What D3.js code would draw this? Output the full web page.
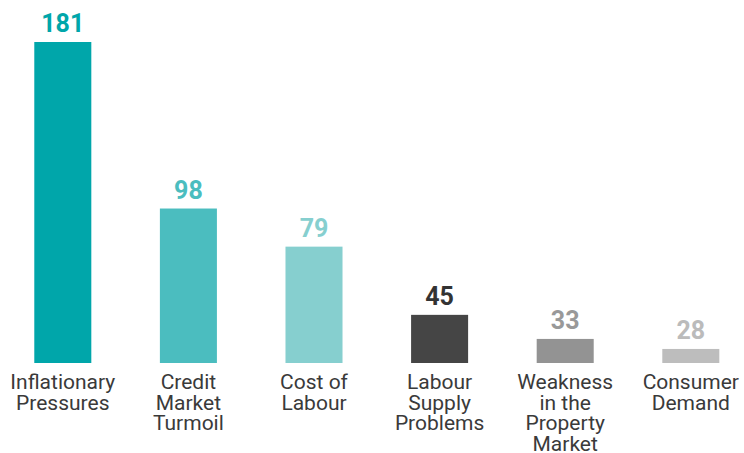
<!DOCTYPE html>
<html><head><meta charset="utf-8">
<script src="https://cdn.jsdelivr.net/npm/d3@7"></script>
<style>body{margin:0;background:#fff}svg{display:block}</style>
</head><body>
<svg id="c" width="744" height="453"></svg>
<script>
const categories = [
  ["Inflationary","Pressures"],
  ["Credit","Market","Turmoil"],
  ["Cost of","Labour"],
  ["Labour","Supply","Problems"],
  ["Weakness","in the","Property","Market"],
  ["Consumer","Demand"]
];
const values = [181, 98, 79, 45, 33, 28];
const barColors = ["#00a6aa","#4bbdbf","#86cfcf","#454545","#939393","#bdbdbd"];
const labelColors = ["#00a6aa","#4bbdbf","#86cfcf","#333333","#999999","#bbbbbb"];

const svg = d3.select("#c");
const idx = d3.range(values.length);
const x = d3.scaleBand().domain(idx).range([0, 753.6]).paddingInner(0.546).paddingOuter(0.273);
const y = d3.scaleLinear().domain([21, 181]).range([363, 42]);

svg.selectAll("rect.bar").data(idx).join("rect")
  .attr("x", i => x(i)).attr("width", x.bandwidth())
  .attr("y", i => y(values[i])).attr("height", i => y.range()[0] - y(values[i]))
  .attr("fill", i => barColors[i]);

svg.selectAll("text.val").data(idx).join("text")
  .attr("class","val")
  .attr("x", i => x(i) + x.bandwidth()/2)
  .attr("y", i => y(values[i]) - 10)
  .attr("text-anchor","middle")
  .attr("font-family","Roboto, sans-serif").attr("font-weight","bold").attr("font-size", 25)
  .attr("fill", i => labelColors[i])
  .text(i => values[i]);

const cat = svg.selectAll("text.cat").data(idx).join("text")
  .attr("class","cat")
  .attr("text-anchor","middle")
  .attr("font-family","Roboto, sans-serif").attr("font-size", 21)
  .attr("fill","#3a3a3a");
cat.each(function(i){
  d3.select(this).selectAll("tspan").data(categories[i]).join("tspan")
    .attr("x", x(i) + x.bandwidth()/2)
    .attr("y", (d,j) => 389 + j*20.5)
    .text(d => d);
});
</script>
</body></html>
